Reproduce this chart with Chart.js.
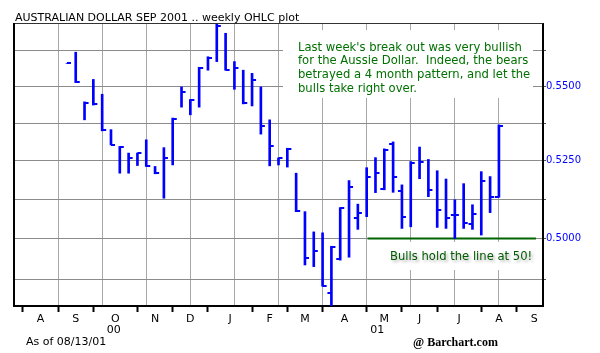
<!DOCTYPE html>
<html>
<head>
<meta charset="utf-8">
<script src="https://cdn.jsdelivr.net/npm/chart.js@4.4.1/dist/chart.umd.min.js"></script>
<style>
  html, body { margin: 0; padding: 0; background: #fff; }
  #wrap { position: relative; width: 600px; height: 353px; }
</style>
</head>
<body>
<div id="wrap"><canvas id="chart" width="600" height="353"></canvas></div>
<script>
// weekly bars, x = week slot on the axis (0..60)
const weeks = [6, 7, 8, 9, 10, 11, 12, 13, 14, 15, 16, 17, 18, 19, 20, 21, 22, 23, 24, 25,
  26, 27, 28, 29, 30, 31, 32, 33, 34, 35, 36, 37, 38, 39, 40, 41, 42, 43, 44, 45,
  46, 47, 48, 49, 50, 51, 52, 53, 54, 55];
const highs = [0.5580, 0.5619, 0.5447, 0.5524, 0.5473, 0.5353, 0.5297, 0.5275, 0.5275, 0.5319,
  0.5231, 0.5293, 0.5392, 0.5498, 0.5455, 0.5566, 0.5603, 0.5725, 0.5686, 0.5586,
  0.5556, 0.5545, 0.5498, 0.5386, 0.5259, 0.5291, 0.5209, 0.5085, 0.5021, 0.5018,
  0.4976, 0.5098, 0.5185, 0.5109, 0.5227, 0.5260, 0.5289, 0.5312, 0.5171, 0.5247,
  0.5295, 0.5254, 0.5217, 0.5190, 0.5123, 0.5175, 0.5107, 0.5214, 0.5198, 0.5369];
const lows = [0.5580, 0.5513, 0.5386, 0.5436, 0.5349, 0.5302, 0.5209, 0.5209, 0.5234, 0.5231,
  0.5207, 0.5128, 0.5236, 0.5429, 0.5403, 0.5429, 0.5556, 0.5586, 0.5556, 0.5490,
  0.5440, 0.5433, 0.5338, 0.5233, 0.5236, 0.5229, 0.5085, 0.4918, 0.4913, 0.4853,
  0.4780, 0.4933, 0.4942, 0.5029, 0.5069, 0.5146, 0.5155, 0.5147, 0.5032, 0.5037,
  0.5191, 0.5133, 0.5035, 0.5032, 0.5000, 0.5032, 0.5029, 0.5011, 0.5082, 0.5131];
const closes = [0.5580, 0.5515, 0.5444, 0.5439, 0.5352, 0.5302, 0.5296, 0.5260, 0.5275, 0.5232,
  0.5208, 0.5258, 0.5389, 0.5479, 0.5453, 0.5562, 0.5600, 0.5712, 0.5558, 0.5562,
  0.5442, 0.5521, 0.5365, 0.5297, 0.5258, 0.5289, 0.5086, 0.4939, 0.4961, 0.4854,
  0.4975, 0.5096, 0.5163, 0.5080, 0.5198, 0.5211, 0.5286, 0.5198, 0.5069, 0.5242,
  0.5247, 0.5153, 0.5091, 0.5066, 0.5075, 0.5048, 0.5077, 0.5182, 0.5133, 0.5364];
const opens = [null, null, null, null, null, null, null, null, null, null,
  null, null, null, null, null, null, null, null, null, null,
  null, null, null, null, null, null, null, null, null, null,
  0.4833, 0.4935, null, 0.5064, null, null, 0.5157, 0.5306, 0.5150, null,
  null, null, null, null, 0.5075, null, 0.5047, null, null, 0.5131];

const priceTicks = [0.4875, 0.5000, 0.5125, 0.5250, 0.5375, 0.5500, 0.5625];
const priceLabels = ['', '0.5000', '', '0.5250', '', '0.5500', ''];
const monthStarts = [1, 5, 9, 14, 18, 22, 27, 31, 35, 40, 44, 48, 53, 57, 61];
// year line sits a little left of its month letter, as on the original
const monthLabels = ['A', 'S', ['O', '00\u00a0'], 'N', 'D', 'J', 'F', 'M', 'A',
  ['M', '01\u00a0\u00a0\u00a0\u00a0'], 'J', 'J', 'A', 'S'];
const supportLevel = 0.5000;
const supportFrom = 40.1;
const supportTo = 59.2;

const blue = '#0000ff';

function tickImage(side) {
  const c = document.createElement('canvas');
  c.width = 10;
  c.height = 2;
  const g = c.getContext('2d');
  g.fillStyle = blue;
  if (side === 'right') g.fillRect(5, 0, 4, 2);
  else g.fillRect(1, 0, 4, 2);
  return c;
}

const monthTicks = [];
monthLabels.forEach((name, i) => {
  monthTicks.push({value: monthStarts[i], edge: true});
  monthTicks.push({value: (monthStarts[i] + monthStarts[i + 1]) / 2, name: name});
});

const overlay = {
  id: 'overlay',
  beforeDatasetsDraw(chart) {
    const ctx = chart.ctx;
    ctx.save();
    ctx.fillStyle = '#fff';
    ctx.fillRect(283, 30, 250, 68);
    ctx.fillRect(385, 242, 150, 28);

    ctx.fillStyle = '#007000';
    ctx.font = '11.6px "DejaVu Sans"';
    ctx.textBaseline = 'alphabetic';
    ctx.fillText(`Last week's break out was very bullish`, 298, 50.7);
    ctx.fillText(`for the Aussie Dollar.  Indeed, the bears`, 298, 64.4);
    ctx.fillText(`betrayed a 4 month pattern, and let the`, 298, 78.1);
    ctx.fillText(`bulls take right over.`, 298, 91.8);

    ctx.shadowColor = 'rgba(0,0,0,0.3)';
    ctx.shadowOffsetX = 2;
    ctx.shadowOffsetY = 2;
    ctx.shadowBlur = 3;
    ctx.fillStyle = '#005a00';
    ctx.fillText(`Bulls hold the line at 50!`, 390, 259.5);
    ctx.restore();
  },
  afterDraw(chart) {
    const ctx = chart.ctx;
    const a = chart.chartArea;
    ctx.save();
    ctx.fillStyle = '#333';
    ctx.fillRect(a.left, a.top - 1, a.right - a.left, 1);
    ctx.fillStyle = '#000';
    ctx.fillRect(a.left - 1, a.top - 1, 2, a.bottom - a.top + 2);

    ctx.textBaseline = 'alphabetic';
    ctx.font = '11px "DejaVu Sans"';
    ctx.fillText(`AUSTRALIAN DOLLAR SEP 2001 .. weekly OHLC plot`, 15, 21);
    ctx.fillText(`As of 08/13/01`, 26, 345);
    ctx.font = 'bold 12px "Liberation Serif"';
    ctx.fillText(`@ Barchart.com`, 413, 346);
    ctx.restore();
  }
};

new Chart(document.getElementById('chart'), {
  type: 'bar',
  data: {
    datasets: [
      {
        type: 'bar',
        data: weeks.map((w, i) => ({x: w, y: [lows[i], highs[i]]})),
        backgroundColor: blue,
        borderWidth: 0,
        barThickness: 2,
        order: 2
      },
      {
        type: 'scatter',
        data: weeks.map((w, i) => ({x: w, y: closes[i]})),
        pointStyle: tickImage('right'),
        pointRadius: 3,
        order: 1
      },
      {
        type: 'scatter',
        data: weeks.map((w, i) => opens[i] === null ? null : {x: w, y: opens[i]}).filter(Boolean),
        pointStyle: tickImage('left'),
        pointRadius: 3,
        order: 1
      },
      {
        type: 'line',
        data: [{x: supportFrom, y: supportLevel}, {x: supportTo, y: supportLevel}],
        borderColor: '#006400',
        borderWidth: 2,
        pointRadius: 0,
        order: 3
      }
    ]
  },
  options: {
    responsive: false,
    animation: false,
    layout: {padding: {left: 14, top: 24, right: 0, bottom: 0}},
    plugins: {legend: {display: false}, tooltip: {enabled: false}},
    scales: {
      x: {
        type: 'linear',
        min: 0,
        max: 60,
        offset: false,
        position: 'bottom',
        ticks: {stepSize: 5, display: false},
        grid: {color: '#a8a8a8', drawTicks: false, offset: false},
        border: {display: false},
        afterFit: s => { s.height = 0; }
      },
      x2: {
        type: 'linear',
        min: 0,
        max: 60,
        offset: false,
        position: 'bottom',
        afterBuildTicks: s => { s.ticks = monthTicks.map(t => ({...t})); },
        afterFit: s => { s.height = 47; },
        ticks: {
          autoSkip: false,
          maxRotation: 0,
          padding: 1,
          color: '#000',
          font: {family: 'DejaVu Sans', size: 11, lineHeight: 1.05},
          callback: (v, i, ticks) => ticks[i].name || ''
        },
        grid: {
          offset: false,
          drawOnChartArea: false,
          tickLength: 6,
          tickWidth: 2,
          tickColor: c => (c.tick && c.tick.edge) ? '#000' : 'rgba(0,0,0,0)'
        },
        border: {color: '#000', width: 2}
      },
      y: {
        type: 'logarithmic',
        position: 'right',
        min: 0.47933,
        max: 0.57191,
        afterBuildTicks: s => { s.ticks = priceTicks.map(v => ({value: v})); },
        afterFit: s => { s.width = 57; },
        ticks: {
          autoSkip: false,
          padding: 0,
          color: blue,
          font: {family: 'DejaVu Sans', size: 10},
          callback: (v, i) => priceLabels[i]
        },
        grid: {color: '#8c8c8c', tickLength: 3, tickColor: '#555'},
        border: {color: '#000', width: 2}
      }
    }
  },
  plugins: [overlay]
});
</script>
</body>
</html>
